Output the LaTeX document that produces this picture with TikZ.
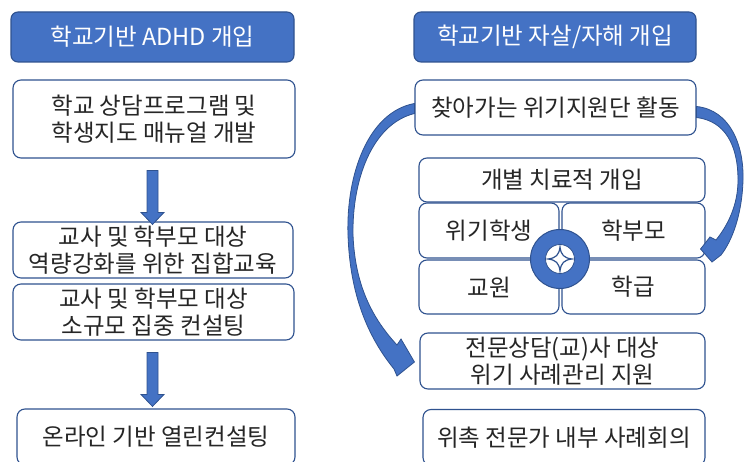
\documentclass[tikz,border=0pt]{standalone}
\usepackage{fontspec}
\setmainfont{Noto Sans CJK KR}
\usetikzlibrary{calc}
\definecolor{hdblue}{RGB}{68,114,196}
\definecolor{edgeblue}{RGB}{47,82,143}
\definecolor{ink}{RGB}{38,38,38}
\tikzstyle{title} = [draw=edgeblue, fill=hdblue, rounded corners=7, line width=1.1,
    text=white, inner sep=0, align=center, font=\fontsize{23.5}{26.5}\selectfont]
\tikzstyle{box} = [draw=edgeblue, fill=white, rounded corners=8, line width=1.1,
    text=ink, inner sep=0, align=center, font=\fontsize{23.5}{26.5}\selectfont]
\tikzstyle{flow} = [fill=hdblue, draw=edgeblue, line width=0.8]
\newcommand{\downblock}[2]{%
  \filldraw[flow] ($(#1)+(-5.5,0)$) -- ($(#2)+(-5.5,-12)$) -- ($(#2)+(-11.5,-12)$)
    -- (#2) -- ($(#2)+(11.5,-12)$) -- ($(#2)+(5.5,-12)$) -- ($(#1)+(5.5,0)$) -- cycle;}

\begin{document}
\begin{tikzpicture}[x=1pt,y=-1pt]
\useasboundingbox (0,0) rectangle (744,462);

%%% left column
\node[title, minimum width=283, minimum height=50] (hdL) at (152.5,37) {학교기반 ADHD 개입};
\node[box, minimum width=282, minimum height=78] (b1) at (154,119) {학교 상담프로그램 및\\학생지도 매뉴얼 개발};
\node[box, minimum width=280, minimum height=56] (b2) at (153,250) {교사 및 학부모 대상\\역량강화를 위한 집합교육};
\node[box, minimum width=281, minimum height=56] (b3) at (153.5,312) {교사 및 학부모 대상\\소규모 집중 컨설팅};
\node[box, minimum width=278, minimum height=56] (b4) at (156,437) {온라인 기반 열린컨설팅};

\coordinate (a1s) at ($(b1.south)+(-1.5,12)$);
\coordinate (a1e) at ($(b2.north)+(-0.5,3)$);
\coordinate (a2s) at ($(b3.south)+(-1,12)$);
\coordinate (a2e) at ($(b4.north)+(-3.5,-2)$);
\downblock{a1s}{a1e}
\downblock{a2s}{a2e}

%%% right column
\node[title, minimum width=282, minimum height=50] (hdR) at (555,37) {학교기반 자살/자해 개입};
\node[box, minimum width=281, minimum height=55] (r1) at (555.5,107.5) {찾아가는 위기지원단 활동};
\node[box, minimum width=286, minimum height=44] (r2) at (562,180) {개별 치료적 개입};
\node[box, minimum width=140, minimum height=55] (r3) at (489,230.5) {위기학생};
\node[box, minimum width=143, minimum height=55] (r4) at (633.5,230.5) {학부모};
\node[box, minimum width=140, minimum height=54] (r5) at (489,287) {교원};
\node[box, minimum width=143, minimum height=54] (r6) at (633.5,287) {학급};
\node[box, minimum width=285, minimum height=56] (r7) at (562.5,361) {전문상담(교)사 대상\\위기 사례관리 지원};
\node[box, minimum width=282, minimum height=56] (r8) at (564,437.5) {위촉 전문가 내부 사례회의};

%%% hub
\node[circle, fill=hdblue, draw=edgeblue, line width=1, minimum size=59, inner sep=0] (hub) at (560,259) {};
\node[circle, fill=white, draw=edgeblue, line width=0.8, minimum size=29, inner sep=0] (hubin) at (hub) {};
\filldraw[fill=white, draw=edgeblue, line width=1.2, shift={(hub)}]
  (12,0) .. controls (4,1) and (1,4) .. (0,12) .. controls (-1,4) and (-4,1) .. (-12,0)
  .. controls (-4,-1) and (-1,-4) .. (0,-12) .. controls (1,-4) and (4,-1) .. (12,0) -- cycle;

%%% curved arrows
\coordinate (ls) at (r1.west);
\coordinate (le) at ($(r7.west)+(-5,1)$);
\filldraw[flow] ($(ls)+(0,-4)$) .. controls (368,112) and (346,175) .. (348,235)
  .. controls (350,295) and (368,337) .. (394,369) -- (397,376) -- (le) -- (401,339)
  -- (397,345) .. controls (372,318) and (355,285) .. (353,235)
  .. controls (352,180) and (372,124) .. ($(ls)+(0,6)$) -- cycle;

\coordinate (rs) at (r1.east);
\coordinate (re) at ($(r4.east)+(-5,18.5)$);
\filldraw[flow] ($(rs)+(0,-1)$) .. controls (730,110) and (744,145) .. (743,180)
  .. controls (742,215) and (732,241) .. (721,255) -- (712,262) -- (re) -- (710,237)
  -- (716,240) .. controls (728,225) and (738,205) .. (738,180)
  .. controls (738,145) and (725,121) .. ($(rs)+(0,10)$) -- cycle;

\end{tikzpicture}
\end{document}
